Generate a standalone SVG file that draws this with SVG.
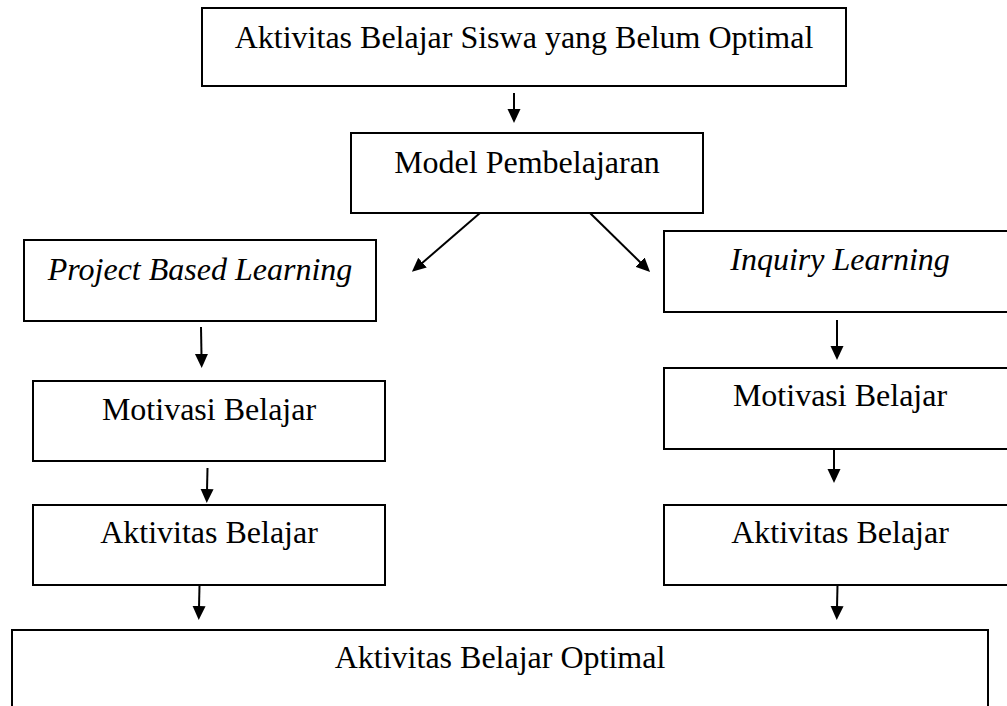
<svg xmlns="http://www.w3.org/2000/svg" width="1007" height="706" viewBox="0 0 1007 706">
<style>
.box{fill:#fff;stroke:#000;stroke-width:2}
.t{font-family:"Liberation Serif","Times New Roman",serif;font-size:32px;fill:#000;text-anchor:middle}
.i{font-style:italic}
.c{stroke:#000;stroke-width:2;fill:none;marker-end:url(#ah)}
</style>
<defs>
<marker id="ah" viewBox="0 0 14 14" refX="2" refY="7" markerWidth="14" markerHeight="14" markerUnits="userSpaceOnUse" orient="auto">
<path d="M0,0.5 L14,7 L0,13.5 z" fill="#000"/>
</marker>
</defs>
<rect width="1007" height="706" fill="#fff"/>
<g id="n-top"><rect class="box" x="202" y="8" width="644" height="78"/><text class="t" x="524" y="48">Aktivitas Belajar Siswa yang Belum Optimal</text></g>
<g id="n-model"><rect class="box" x="351" y="133" width="352" height="80"/><text class="t" x="527" y="173">Model Pembelajaran</text></g>
<g id="n-pbl"><rect class="box" x="24" y="240" width="352" height="81"/><text class="t i" x="200" y="280">Project Based Learning</text></g>
<g id="n-inq"><rect class="box" x="664" y="231" width="352" height="81"/><text class="t i" x="840" y="270">Inquiry Learning</text></g>
<g id="n-motl"><rect class="box" x="33" y="381" width="352" height="80"/><text class="t" x="209" y="420">Motivasi Belajar</text></g>
<g id="n-aktl"><rect class="box" x="33" y="505" width="352" height="80"/><text class="t" x="209" y="543">Aktivitas Belajar</text></g>
<g id="n-motr"><rect class="box" x="664" y="368" width="352" height="81"/><text class="t" x="840" y="406">Motivasi Belajar</text></g>
<g id="n-aktr"><rect class="box" x="664" y="505" width="352" height="80"/><text class="t" x="840" y="543">Aktivitas Belajar</text></g>
<g id="n-bottom"><rect class="box" x="12" y="630" width="976" height="82"/><text class="t" x="500" y="668">Aktivitas Belajar Optimal</text></g>
<g id="connectors">
<line class="c" x1="514" y1="93" x2="514" y2="111"/>
<line class="c" x1="480" y1="213" x2="421" y2="264"/>
<line class="c" x1="590" y1="213" x2="641.5" y2="263.5"/>
<line class="c" x1="201" y1="327" x2="201.5" y2="356"/>
<line class="c" x1="207.5" y1="468" x2="207" y2="491"/>
<line class="c" x1="199.5" y1="585" x2="199" y2="608"/>
<line class="c" x1="837" y1="320" x2="837" y2="348"/>
<line class="c" x1="834" y1="449" x2="834" y2="471"/>
<line class="c" x1="837.5" y1="585" x2="837" y2="608"/>
</g>
</svg>
